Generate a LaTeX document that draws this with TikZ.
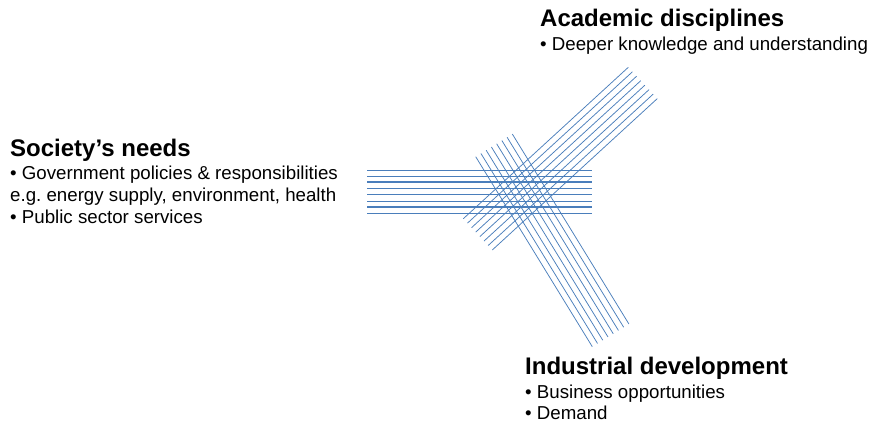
\documentclass[tikz,border=0pt]{standalone}
\usepackage{fontspec}
\setmainfont{Liberation Sans}
\frenchspacing
\definecolor{strand}{RGB}{74,126,187}
\begin{document}
\begin{tikzpicture}[x=1pt,y=-1pt,
  heading/.style={anchor=base west,inner sep=0pt,font=\fontsize{24}{28}\selectfont\bfseries},
  bodyline/.style={anchor=base west,inner sep=0pt,font=\fontsize{18.7}{22}\selectfont},
  strandline/.style={draw=strand,line width=0.75pt},
  heavystrand/.style={draw=strand,line width=1.8pt}]
\useasboundingbox (0,0) rectangle (876,422);

% bundle running up to the right (academic disciplines)
\foreach \i in {0,...,7}{
  \draw[strandline] ({463.3+4.143*\i},{218.7+4.471*\i}) -- ++(165,-151.4);
}
% bundle running down to the right (industrial development)
\foreach \i in {0,...,7}{
  \draw[strandline] ({475.7+5.229*\i},{156.7-3.243*\i}) -- ++(116.6,190);
}
% horizontal bundle (society's needs)
\foreach \i in {0,...,7}{
  \ifnum\i=2 \draw[heavystrand] (367,{170+6.19*\i}) -- (592,{170+6.19*\i});
  \else\ifnum\i=6 \draw[heavystrand] (367,{170+6.19*\i}) -- (592,{170+6.19*\i});
  \else \draw[strandline] (367,{170+6.19*\i}) -- (592,{170+6.19*\i});
  \fi\fi
}

% society's needs
\node[heading]  (soc)  at (10,157) {Society’s needs};
\node[bodyline] (soc1) at (10,180) {• Government policies \& responsibilities};
\node[bodyline] (soc2) at (10,202) {e.g. energy supply, environment, health};
\node[bodyline] (soc3) at (10,224) {• Public sector services};

% academic disciplines
\node[heading]  (acad)  at (540,27) {Academic disciplines};
\node[bodyline] (acad1) at (540,51) {• Deeper knowledge and understanding};

% industrial development
\node[heading]  (ind)  at (525,374) {Industrial development};
\node[bodyline] (ind1) at (525,398) {• Business opportunities};
\node[bodyline] (ind2) at (525,419) {• Demand};
\end{tikzpicture}
\end{document}
